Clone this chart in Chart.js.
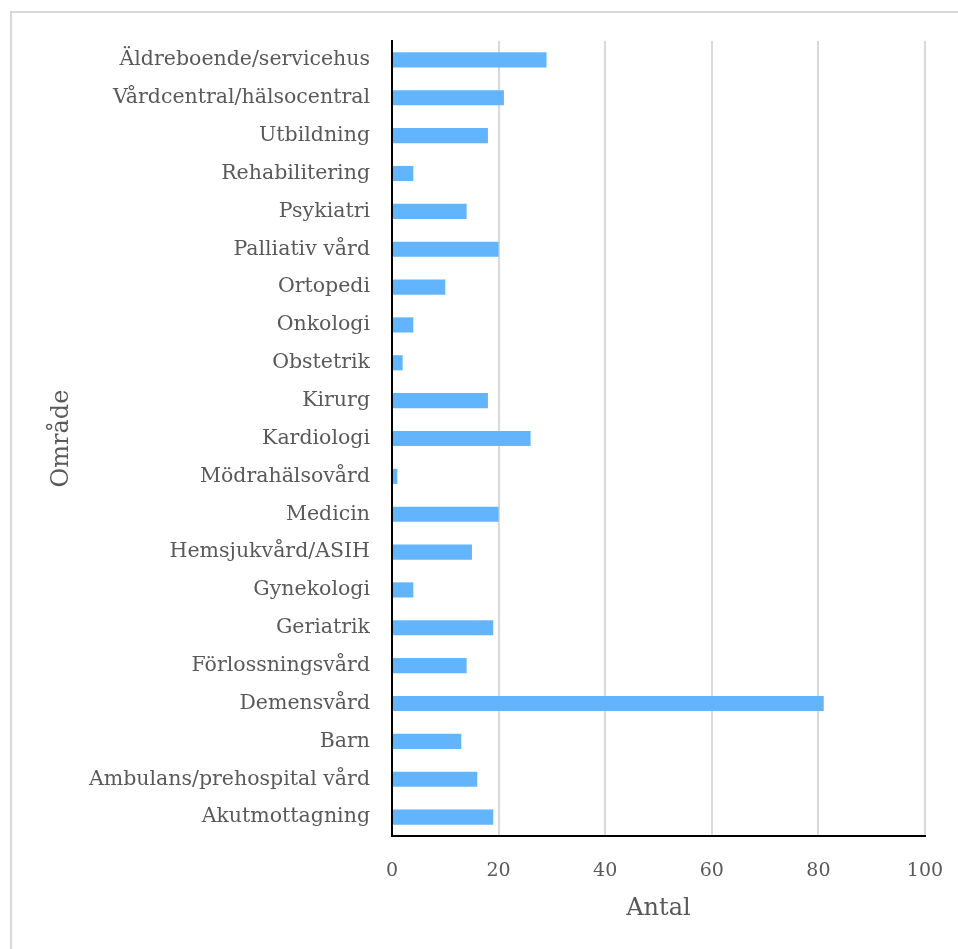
<!DOCTYPE html>
<html lang="sv">
<head>
<meta charset="utf-8">
<title>Område – Antal</title>
<script src="https://cdn.jsdelivr.net/npm/chart.js@4.4.1/dist/chart.umd.min.js"></script>
<style>
    html, body { margin: 0; padding: 0; background: #fff; overflow: hidden; }
    #wrap { position: absolute; left: 0; top: 0; width: 958px; height: 949px; }
</style>
</head>
<body>
<div id="wrap"><canvas id="omradeChart"></canvas></div>
<script>
// ==========================================
// DATA
// ==========================================

// Områden, uppifrån och ned som i bilden
const omraden = [
    'Äldreboende/servicehus', 'Vårdcentral/hälsocentral', 'Utbildning', 'Rehabilitering',
    'Psykiatri', 'Palliativ vård', 'Ortopedi', 'Onkologi', 'Obstetrik', 'Kirurg',
    'Kardiologi', 'Mödrahälsovård', 'Medicin', 'Hemsjukvård/ASIH', 'Gynekologi',
    'Geriatrik', 'Förlossningsvård', 'Demensvård', 'Barn', 'Ambulans/prehospital vård',
    'Akutmottagning'
];

const antal = [29, 21, 18, 4, 14, 20, 10, 4, 2, 18, 26, 1, 20, 15, 4, 19, 14, 81, 13, 16, 19];

const xMin = 0;
const xMax = 100;
const xSteg = 20;

// ==========================================
// GRAF
// ==========================================

const textFarg = '#595959';
const fontFamilj = '"DejaVu Serif", serif';

// Ljusgrå ram uppe och till vänster (som i originalbilden)
const ramPlugin = {
    id: 'ram',
    beforeDraw(chart) {
        const c = chart.ctx;
        c.save();
        c.strokeStyle = '#d9d9d9';
        c.lineWidth = 2;
        c.beginPath();
        c.moveTo(11, chart.height);
        c.lineTo(11, 12);
        c.lineTo(chart.width, 12);
        c.stroke();
        c.restore();
    }
};

document.addEventListener('DOMContentLoaded', () => {
    const ctx = document.getElementById('omradeChart').getContext('2d');
    new Chart(ctx, {
        type: 'bar',
        data: {
            labels: omraden,
            datasets: [{
                label: 'Antal',
                data: antal,
                backgroundColor: '#62b5fc',
                borderWidth: 0,
                categoryPercentage: 1,
                barPercentage: 0.4
            }]
        },
        plugins: [ramPlugin],
        options: {
            indexAxis: 'y',
            responsive: true,
            maintainAspectRatio: false,
            animation: false,
            layout: { padding: { top: 41, right: 33, bottom: 0, left: 0 } },
            plugins: {
                legend: { display: false },
                tooltip: { enabled: false }
            },
            scales: {
                x: {
                    min: xMin,
                    max: xMax,
                    ticks: {
                        stepSize: xSteg,
                        color: textFarg,
                        padding: 24,
                        font: { family: fontFamilj, size: 19 }
                    },
                    grid: {
                        drawTicks: false,
                        lineWidth: 2,
                        color: c => (c.tick && c.tick.value === 0) ? 'rgba(0,0,0,0)' : '#d9d9d9'
                    },
                    border: { display: true, color: '#000', width: 2 },
                    title: {
                        display: true,
                        text: 'Antal',
                        color: textFarg,
                        font: { family: fontFamilj, size: 24 },
                        padding: { top: 0, bottom: 26 }
                    },
                    afterFit: scale => {
                        scale.height = 113;
                        scale.paddingRight = 0;
                    }
                },
                y: {
                    ticks: {
                        autoSkip: false,
                        color: textFarg,
                        padding: 22,
                        font: { family: fontFamilj, size: 20.5 }
                    },
                    grid: { display: false, drawTicks: false },
                    border: { display: true, color: '#000', width: 2 },
                    title: {
                        display: true,
                        text: 'Område',
                        color: textFarg,
                        font: { family: fontFamilj, size: 24 },
                        padding: { top: 47, bottom: 0 }
                    },
                    afterFit: scale => { scale.width = 392; }
                }
            }
        }
    });
});
</script>
</body>
</html>
